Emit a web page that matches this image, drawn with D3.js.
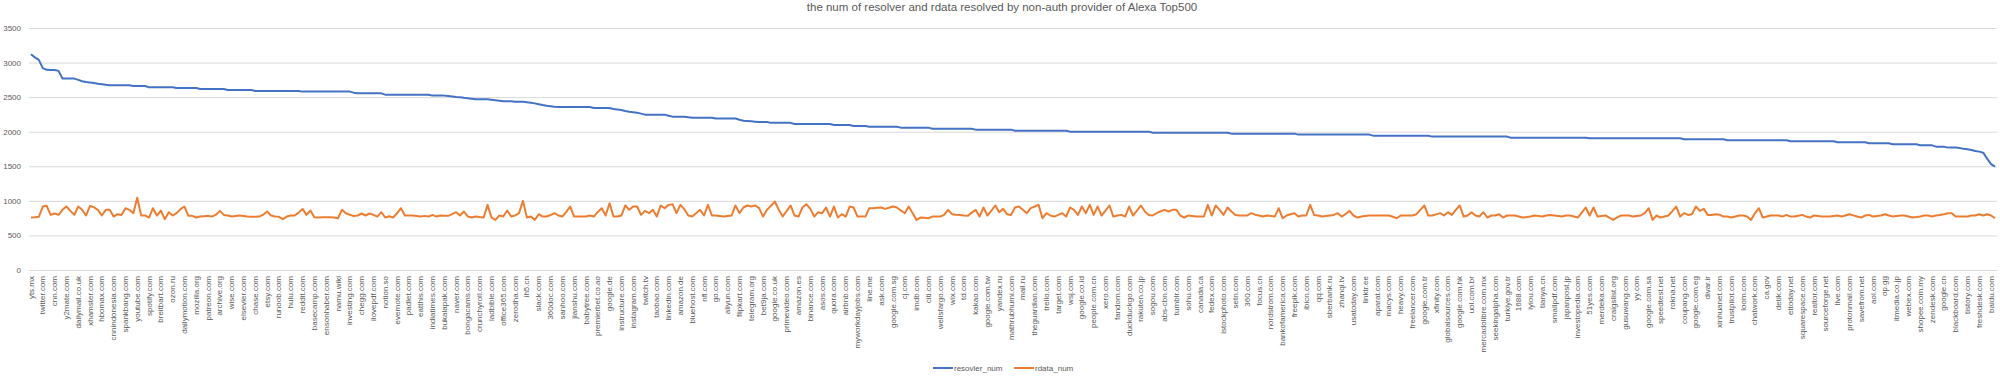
<!DOCTYPE html>
<html>
<head>
<meta charset="utf-8">
<script src="https://cdn.jsdelivr.net/npm/d3@7"></script>
<style>
  body { margin: 0; background: #fff; }
  .chart text { font-family: "Liberation Sans", Arial, sans-serif; fill: #595959; }
</style>
</head>
<body>
<div class="chart"></div>
<script>
// category labels shown on the axis (every third site)
const tickLabels = [
  "yts.mx", "twitter.com", "cnn.com", "y2mate.com", "dailymail.co.uk", "xhamster.com", "hbomax.com",
  "cnnindonesia.com", "spankbang.com", "youtube.com", "spotify.com", "breitbart.com", "ozon.ru",
  "dailymotion.com", "mozilla.org", "patreon.com", "archive.org", "wise.com", "elsevier.com", "chase.com",
  "etsy.com", "runoob.com", "hulu.com", "reddit.com", "basecamp.com", "ensonhaber.com", "namu.wiki",
  "investing.com", "chegg.com", "ilovepdf.com", "notion.so", "evernote.com", "padlet.com", "eatthis.com",
  "indiatimes.com", "bukalapak.com", "naver.com", "bongacams.com", "crunchyroll.com", "ladbible.com",
  "office365.com", "zerodha.com", "ih5.cn", "slack.com", "360doc.com", "sanhoo.com", "jianshu.com",
  "babytree.com", "premierbet.co.ao", "google.de", "instructure.com", "instagram.com", "twitch.tv",
  "taobao.com", "linkedin.com", "amazon.de", "bluehost.com", "nfl.com", "go.com", "aliyun.com",
  "flipkart.com", "telegram.org", "bet9ja.com", "google.co.uk", "primevideo.com", "amazon.es",
  "binance.com", "asos.com", "quora.com", "airbnb.com", "myworkdayjobs.com", "line.me", "ask.com",
  "google.com.sg", "cj.com", "imdb.com", "citi.com", "wellsfargo.com", "wix.com", "td.com", "kakao.com",
  "google.com.tw", "yandex.ru", "mathrubhumi.com", "mail.ru", "theguardian.com", "trello.com",
  "target.com", "wsj.com", "google.co.id", "people.com.cn", "xero.com", "fandom.com", "duckduckgo.com",
  "rakuten.co.jp", "sogou.com", "abs-cbn.com", "tumblr.com", "sohu.com", "canada.ca", "fedex.com",
  "istockphoto.com", "setn.com", "360.com", "focus.cn", "nordstrom.com", "bankofamerica.com",
  "freepik.com", "ibicn.com", "qq.com", "sberbank.ru", "zhanqi.tv", "usatoday.com", "linktr.ee",
  "aparat.com", "macys.com", "heavy.com", "freelancer.com", "google.com.tr", "xfinity.com",
  "globalsources.com", "google.com.hk", "uol.com.br", "mercadolibre.com.mx", "seekingalpha.com",
  "turkiye.gov.tr", "1688.com", "iyiou.com", "tianya.cn", "smallpdf.com", "japanpost.jp",
  "investopedia.com", "51yes.com", "merdeka.com", "craigslist.org", "gusuwang.com", "yy.com",
  "google.com.sa", "speedtest.net", "rokna.net", "coupang.com", "google.com.eg", "divar.ir",
  "xinhuanet.com", "trustpilot.com", "loom.com", "chatwork.com", "ca.gov", "detik.com", "ettoday.net",
  "squarespace.com", "realtor.com", "sourceforge.net", "live.com", "protonmail.com", "savefrom.net",
  "aol.com", "op.gg", "itmedia.co.jp", "webex.com", "shopee.com.my", "zendesk.com", "google.cn",
  "blackboard.com", "tistory.com", "freshdesk.com", "baidu.com"
];

const seriesNames = ["resovler_num", "rdata_num"];
const yTicks = [0, 500, 1000, 1500, 2000, 2500, 3000, 3500];

const resolverNum = [
  3120, 3075, 3040, 2920, 2895, 2893, 2893, 2880, 2770, 2768,
  2768, 2768, 2750, 2730, 2720, 2712, 2705, 2695, 2688, 2678,
  2672, 2671, 2671, 2671, 2671, 2671, 2661, 2661, 2661, 2661,
  2642, 2642, 2642, 2642, 2642, 2642, 2642, 2633, 2633, 2633,
  2633, 2633, 2633, 2618, 2618, 2618, 2618, 2618, 2618, 2618,
  2604, 2604, 2604, 2604, 2604, 2604, 2604, 2590, 2590, 2590,
  2590, 2590, 2590, 2590, 2590, 2590, 2590, 2590, 2590, 2580,
  2580, 2580, 2580, 2580, 2580, 2580, 2580, 2580, 2580, 2580,
  2580, 2580, 2565, 2555, 2555, 2555, 2555, 2555, 2555, 2555,
  2536, 2536, 2536, 2536, 2536, 2536, 2536, 2536, 2536, 2536,
  2536, 2536, 2522, 2522, 2522, 2522, 2515, 2508, 2502, 2498,
  2490, 2484, 2478, 2470, 2470, 2470, 2470, 2462, 2455, 2449,
  2442, 2442, 2442, 2432, 2432, 2432, 2425, 2418, 2410, 2398,
  2385, 2374, 2368, 2362, 2358, 2358, 2358, 2358, 2358, 2358,
  2358, 2358, 2358, 2343, 2343, 2343, 2343, 2343, 2329, 2322,
  2314, 2300, 2288, 2282, 2276, 2262, 2247, 2247, 2247, 2247,
  2247, 2247, 2232, 2218, 2218, 2218, 2218, 2210, 2203, 2203,
  2203, 2203, 2203, 2203, 2190, 2190, 2190, 2190, 2190, 2190,
  2172, 2160, 2155, 2150, 2145, 2141, 2141, 2141, 2128, 2128,
  2128, 2128, 2128, 2128, 2112, 2112, 2112, 2112, 2112, 2112,
  2112, 2112, 2112, 2112, 2097, 2097, 2097, 2097, 2097, 2083,
  2083, 2083, 2083, 2073, 2073, 2073, 2073, 2073, 2073, 2073,
  2073, 2059, 2059, 2059, 2059, 2059, 2059, 2059, 2059, 2044,
  2044, 2044, 2044, 2044, 2044, 2044, 2044, 2044, 2044, 2044,
  2030, 2030, 2030, 2030, 2030, 2030, 2030, 2030, 2030, 2030,
  2015, 2015, 2015, 2015, 2015, 2015, 2015, 2015, 2015, 2015,
  2015, 2015, 2015, 2015, 2001, 2001, 2001, 2001, 2001, 2001,
  2001, 2001, 2001, 2001, 2001, 2001, 2001, 2001, 2001, 2001,
  2001, 2001, 2001, 2001, 2001, 1986, 1986, 1986, 1986, 1986,
  1986, 1986, 1986, 1986, 1986, 1986, 1986, 1986, 1986, 1986,
  1986, 1986, 1986, 1986, 1986, 1972, 1972, 1972, 1972, 1972,
  1972, 1972, 1972, 1972, 1972, 1972, 1972, 1972, 1972, 1972,
  1972, 1972, 1958, 1958, 1958, 1958, 1958, 1958, 1958, 1958,
  1958, 1958, 1958, 1958, 1958, 1958, 1958, 1958, 1958, 1958,
  1958, 1943, 1943, 1943, 1943, 1943, 1943, 1943, 1943, 1943,
  1943, 1943, 1943, 1943, 1943, 1943, 1929, 1929, 1929, 1929,
  1929, 1929, 1929, 1929, 1929, 1929, 1929, 1929, 1929, 1929,
  1929, 1929, 1929, 1929, 1929, 1929, 1914, 1914, 1914, 1914,
  1914, 1914, 1914, 1914, 1914, 1914, 1914, 1914, 1914, 1914,
  1914, 1914, 1914, 1914, 1914, 1914, 1905, 1905, 1905, 1905,
  1905, 1905, 1905, 1905, 1905, 1905, 1905, 1905, 1905, 1905,
  1905, 1905, 1905, 1905, 1905, 1905, 1905, 1905, 1905, 1905,
  1890, 1890, 1890, 1890, 1890, 1890, 1890, 1890, 1890, 1890,
  1890, 1876, 1876, 1876, 1876, 1876, 1876, 1876, 1876, 1876,
  1876, 1876, 1876, 1876, 1876, 1876, 1876, 1861, 1861, 1861,
  1861, 1861, 1861, 1861, 1861, 1861, 1861, 1861, 1861, 1847,
  1847, 1847, 1847, 1847, 1847, 1847, 1847, 1832, 1832, 1832,
  1832, 1832, 1832, 1818, 1818, 1818, 1818, 1818, 1818, 1818,
  1803, 1803, 1803, 1803, 1784, 1784, 1784, 1770, 1770, 1770,
  1765, 1752, 1745, 1736, 1722, 1712, 1697, 1610, 1530, 1495
];

const rdataNum = [
  760, 762, 770, 918, 928, 797, 817, 797, 870, 918,
  855, 797, 918, 870, 788, 928, 908, 870, 788, 870,
  870, 773, 807, 797, 894, 870, 822, 1045, 788, 788,
  759, 894, 788, 860, 735, 836, 788, 822, 880, 918,
  783, 783, 759, 773, 778, 783, 773, 800, 855, 797,
  788, 773, 780, 788, 780, 773, 770, 769, 773, 800,
  846, 788, 775, 769, 735, 773, 788, 788, 830, 884,
  797, 860, 764, 759, 762, 764, 762, 759, 749, 870,
  820, 800, 780, 788, 817, 788, 817, 797, 773, 836,
  759, 778, 759, 820, 894, 788, 788, 788, 780, 773,
  783, 773, 797, 773, 788, 785, 783, 807, 836, 788,
  846, 773, 759, 773, 765, 759, 942, 759, 725, 788,
  773, 860, 773, 788, 822, 1000, 759, 773, 725, 807,
  773, 773, 795, 822, 788, 773, 840, 918, 773, 773,
  773, 773, 788, 773, 840, 894, 788, 966, 773, 773,
  788, 933, 870, 918, 918, 797, 855, 822, 870, 773,
  933, 894, 942, 952, 822, 942, 880, 788, 773, 820,
  870, 788, 942, 788, 788, 780, 773, 780, 788, 933,
  822, 904, 933, 918, 933, 894, 773, 870, 930, 990,
  870, 773, 855, 933, 788, 773, 904, 952, 884, 773,
  836, 822, 904, 773, 918, 759, 807, 773, 918, 904,
  773, 773, 773, 894, 894, 900, 904, 884, 900, 918,
  904, 860, 822, 918, 822, 725, 759, 755, 749, 773,
  773, 773, 797, 870, 807, 800, 797, 788, 783, 830,
  870, 773, 904, 788, 860, 933, 836, 884, 807, 797,
  904, 918, 870, 822, 894, 918, 942, 749, 822, 788,
  773, 797, 822, 773, 904, 870, 797, 918, 822, 942,
  797, 918, 788, 860, 933, 773, 788, 797, 773, 918,
  788, 860, 933, 846, 797, 788, 822, 850, 870, 846,
  870, 870, 788, 759, 788, 780, 773, 773, 773, 942,
  788, 933, 870, 797, 904, 846, 797, 788, 788, 788,
  822, 800, 788, 773, 788, 780, 773, 894, 749, 788,
  807, 822, 773, 788, 788, 942, 797, 788, 773, 780,
  788, 797, 822, 773, 810, 855, 788, 759, 773, 780,
  788, 788, 788, 788, 788, 788, 770, 749, 788, 788,
  788, 788, 807, 870, 933, 788, 788, 805, 822, 788,
  836, 797, 870, 933, 773, 788, 836, 788, 773, 836,
  759, 788, 788, 807, 759, 788, 788, 788, 773, 759,
  765, 773, 788, 780, 773, 788, 797, 788, 780, 773,
  788, 788, 775, 759, 830, 904, 788, 904, 773, 780,
  788, 759, 725, 760, 788, 788, 788, 773, 780, 788,
  822, 894, 725, 788, 759, 773, 788, 850, 918, 773,
  822, 797, 807, 918, 855, 884, 797, 797, 807, 800,
  773, 773, 759, 775, 788, 788, 773, 725, 820, 894,
  759, 773, 788, 788, 788, 773, 797, 773, 773, 785,
  797, 773, 759, 788, 780, 773, 773, 773, 780, 788,
  773, 788, 807, 790, 773, 759, 788, 797, 773, 780,
  788, 807, 788, 773, 780, 788, 788, 773, 759, 765,
  773, 788, 788, 773, 788, 795, 807, 822, 822, 773,
  773, 773, 773, 788, 788, 807, 788, 807, 788, 749
];

const width = 2000, height = 377;
const plot = { left: 29, right: 1997, top: 28, bottom: 270 };

const svg = d3.select(".chart")
  .append("svg")
  .attr("width", width)
  .attr("height", height);

svg.append("rect").attr("width", width).attr("height", height).attr("fill", "#fff");

// title
svg.append("text")
  .attr("x", 1002)
  .attr("y", 11)
  .attr("text-anchor", "middle")
  .style("font-size", "11.5px")
  .text("the num of resolver and rdata resolved by non-auth provider of Alexa Top500");

const x = d3.scaleBand()
  .domain(d3.range(resolverNum.length))
  .range([plot.left, plot.right]);
const cx = (i) => x(i) + x.bandwidth() / 2;

const y = d3.scaleLinear().domain([0, 3500]).range([plot.bottom, plot.top]);

// gridlines + y labels
const yAxis = svg.append("g")
  .attr("transform", `translate(${plot.left},0)`)
  .call(d3.axisLeft(y)
    .tickValues(yTicks)
    .tickFormat(d3.format("d"))
    .tickSize(-(plot.right - plot.left))
    .tickPadding(8));
yAxis.select(".domain").remove();
yAxis.selectAll(".tick line").attr("stroke", "#d9d9d9").attr("stroke-width", 1);
yAxis.selectAll(".tick text").style("font-size", "8px").attr("fill", "#595959");

// x axis labels, every third site
const xAxis = svg.append("g")
  .attr("transform", `translate(0,${plot.bottom})`)
  .call(d3.axisBottom(x)
    .tickValues(d3.range(0, resolverNum.length, 3))
    .tickFormat((i) => tickLabels[i / 3])
    .tickSize(0));
xAxis.select(".domain").remove();
xAxis.selectAll(".tick text")
  .attr("transform", "rotate(-90)")
  .attr("x", -6)
  .attr("y", 0)
  .attr("dy", "0.32em")
  .attr("text-anchor", "end")
  .attr("fill", "#595959")
  .style("font-size", "8px");

const color = d3.scaleOrdinal().domain(seriesNames).range(["#4472c4", "#ed7d31"]);
const series = [resolverNum, rdataNum];

const line = d3.line()
  .x((d, i) => cx(i))
  .y((d) => y(d));

series.forEach((vals, k) => {
  svg.append("path")
    .datum(vals)
    .attr("fill", "none")
    .attr("stroke", color(seriesNames[k]))
    .attr("stroke-width", 2)
    .attr("stroke-linejoin", "round")
    .attr("d", line);
});

// legend
const legend = svg.selectAll(".legend")
  .data(seriesNames)
  .enter()
  .append("g")
  .attr("class", "legend")
  .attr("transform", (d, i) => `translate(${933 + i * 81},368)`);

legend.append("line")
  .attr("x1", 0).attr("x2", 20)
  .attr("stroke", color)
  .attr("stroke-width", 2);

legend.append("text")
  .attr("x", 21)
  .attr("dy", "0.35em")
  .style("font-size", "8px")
  .text((d) => d);
</script>
</body>
</html>
